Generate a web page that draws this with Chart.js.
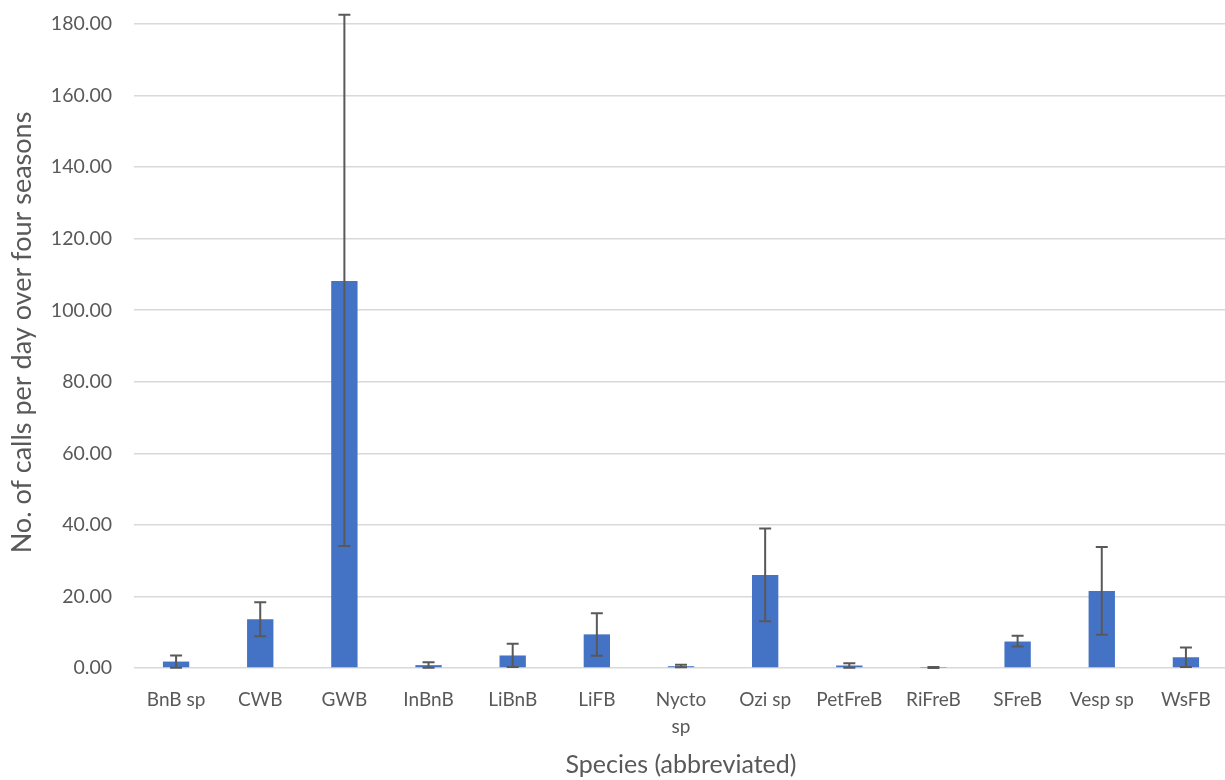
<!DOCTYPE html>
<html>
<head>
<meta charset="utf-8">
<script src="https://cdn.jsdelivr.net/npm/chart.js@4.4.0/dist/chart.umd.min.js"></script>
<style>
  html, body { margin: 0; padding: 0; background: #fff; overflow: hidden; }
  #wrap { width: 1228px; height: 780px; }
</style>
</head>
<body>
<div id="wrap"><canvas id="myChart"></canvas></div>
<script>
'use strict';

// DATA
let species = ['BnB sp', 'CWB', 'GWB', 'InBnB', 'LiBnB', 'LiFB', ['Nycto', 'sp'], 'Ozi sp', 'PetFreB', 'RiFreB', 'SFreB', 'Vesp sp', 'WsFB'];
let callsPerDay = [1.8, 13.6, 108.2, 0.8, 3.5, 9.4, 0.5, 26.0, 0.7, 0.1, 7.4, 21.5, 3.0];
let errLow = [0.1, 8.9, 34.1, 0.1, 0.3, 3.4, 0.2, 13.1, 0.1, 0.0, 6.0, 9.3, 0.3];
let errHigh = [3.5, 18.4, 182.6, 1.6, 6.8, 15.3, 0.9, 39.0, 1.3, 0.3, 9.0, 33.8, 5.7];
let yTicks = [0, 20, 40, 60, 80, 100, 120, 140, 160, 180];

const textColor = '#595959';
const fontFamily = 'Lato, "Open Sans", sans-serif';

// error bar plugin, draws whiskers using the chart's own scales
const errorBars = {
  id: 'errorBars',
  afterDatasetsDraw(chart) {
    let ctx = chart.ctx;
    let yScale = chart.scales.y;
    let meta = chart.getDatasetMeta(0);
    ctx.save();
    ctx.strokeStyle = '#595959';
    ctx.lineWidth = 2;
    for (let i = 0; i < meta.data.length; i++) {
      let x = meta.data[i].x;
      let yTop = yScale.getPixelForValue(errHigh[i]);
      let yBot = yScale.getPixelForValue(errLow[i]);
      ctx.beginPath();
      ctx.moveTo(x, yTop);
      ctx.lineTo(x, yBot);
      ctx.moveTo(x - 6, yTop);
      ctx.lineTo(x + 6, yTop);
      ctx.moveTo(x - 6, yBot);
      ctx.lineTo(x + 6, yBot);
      ctx.stroke();
    }
    ctx.restore();
  }
};

const data = {
  labels: species,
  datasets: [{
    label: 'Calls per day',
    data: callsPerDay,
    backgroundColor: '#4472C4',
    borderWidth: 0,
    categoryPercentage: 1,
    barPercentage: 0.313
  }]
};

const config = {
  type: 'bar',
  data: data,
  plugins: [errorBars],
  options: {
    responsive: true,
    maintainAspectRatio: false,
    animation: false,
    layout: { padding: { top: 24, left: 0, right: 0, bottom: 0 } },
    plugins: {
      legend: { display: false },
      tooltip: { enabled: false }
    },
    scales: {
      x: {
        grid: { display: false },
        border: { display: false },
        ticks: {
          color: textColor,
          font: { family: fontFamily, size: 19, lineHeight: 1.4 },
          padding: 11,
          maxRotation: 0,
          autoSkip: false
        },
        title: {
          display: true,
          text: 'Species (abbreviated)',
          color: textColor,
          font: { family: fontFamily, size: 25 },
          padding: { top: 10, bottom: 0 }
        },
        afterFit(scale) {
          scale.height = 112;
          scale.paddingLeft = 0;
          scale.paddingRight = 0;
        }
      },
      y: {
        min: 0,
        max: 180,
        afterBuildTicks(scale) { scale.ticks = yTicks.map(v => ({ value: v })); },
        grid: { color: '#d9d9d9', lineWidth: 1.5, drawTicks: false },
        border: { display: false },
        ticks: {
          color: textColor,
          font: { family: fontFamily, size: 19.5 },
          padding: 22,
          callback: v => Number(v).toFixed(2)
        },
        title: {
          display: true,
          text: '\u2002\u2002No. of calls per day over four seasons',
          color: textColor,
          font: { family: fontFamily, size: 27 },
          padding: { top: 6, bottom: 6 }
        },
        afterFit(scale) {
          scale.width = 134;
          scale.paddingTop = 0;
          scale.paddingBottom = 0;
        }
      }
    }
  }
};

let canvasChart = document.getElementById('myChart');
const myChart = new Chart(canvasChart, config);
</script>
</body>
</html>
